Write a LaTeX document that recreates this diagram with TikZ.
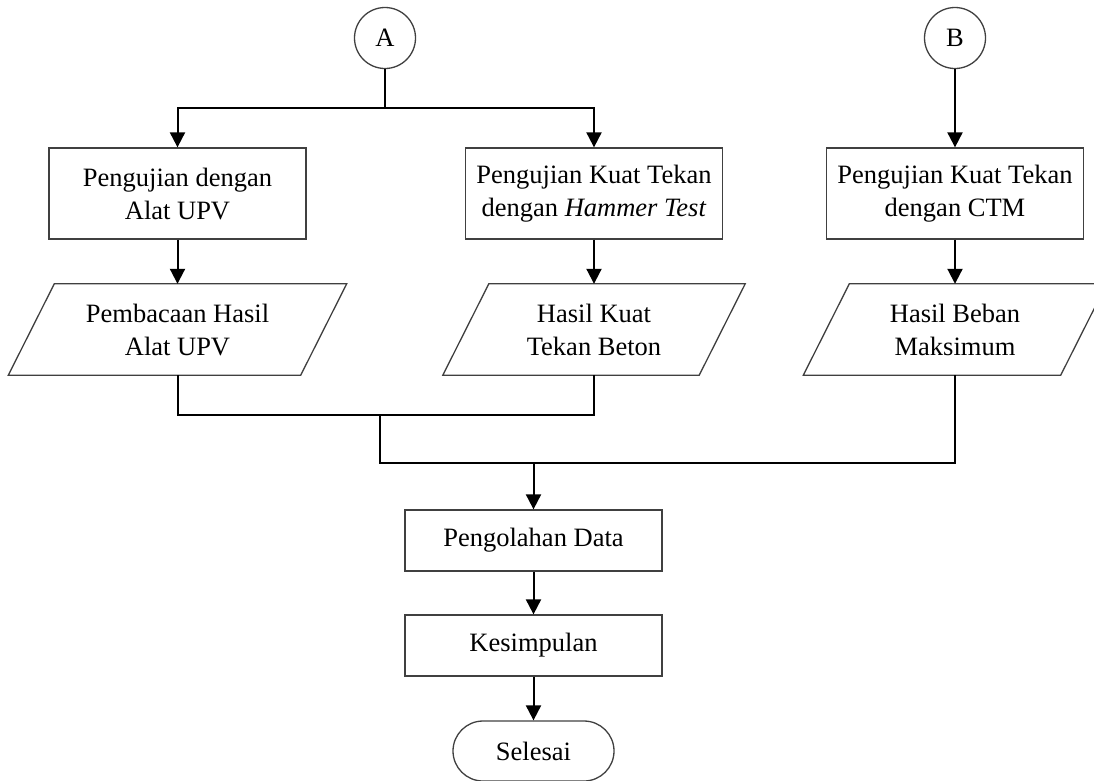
\documentclass[tikz,border=0pt]{standalone}
\usepackage{fontspec}
\setmainfont{Liberation Serif}
\usetikzlibrary{arrows.meta}
\begin{document}
\begin{tikzpicture}[x=1pt,y=-1pt,
  every node/.style={font=\fontsize{26.5}{33}\selectfont, align=center, inner sep=0pt},
  shapeline/.style={draw=black!75, line width=1.3pt},
  box/.style={shapeline, minimum width=257pt, minimum height=91pt},
  conn/.style={circle, shapeline, minimum size=61pt},
  io/.style={minimum width=#1, minimum height=91pt},
  wire/.style={line width=2pt, black},
  arr/.style={wire, -{Triangle[length=15pt,width=15pt]}},
  ]
\useasboundingbox (0,0) rectangle (1094,780);

\node[conn] (A) at (385,38) {A};
\node[conn] (B) at (955,38) {B};

\node[box] (b1) at (177.5,193.5) {Pengujian dengan\\Alat UPV};
\node[box] (b2) at (594,193.5) {Pengujian Kuat Tekan\\dengan \textit{Hammer Test}};
\node[box] (b3) at (955,193.5) {Pengujian Kuat Tekan\\dengan CTM};

\node[io=292pt] (p1) at (177.5,329.5) {Pembacaan Hasil\\Alat UPV};
\node[io=256pt] (p2) at (594,329.5) {Hasil Kuat\\Tekan Beton};
\node[io=257pt] (p3) at (955,329.5) {Hasil Beban\\Maksimum};
\foreach \n in {p1,p2,p3}
  \draw[shapeline] ([xshift=-23pt]\n.south west) -- ([xshift=-23pt]\n.south east)
     -- ([xshift=23pt]\n.north east) -- ([xshift=23pt]\n.north west) -- cycle;

\node[box, minimum height=61pt] (d) at (533.5,540.5) {Pengolahan Data};
\node[box, minimum height=61pt] (k) at (533.5,645.5) {Kesimpulan};
\node[shapeline, rounded corners=30pt, minimum width=161pt, minimum height=60pt] (s) at (533.5,751) {Selesai};

\coordinate (jA) at (385,108);
\coordinate (m1) at (380,415);
\coordinate (m2) at (533.5,463);

\draw[wire] (A) -- (jA);
\draw[arr] (jA) -| (b1.north);
\draw[arr] (jA) -| (b2.north);
\draw[arr] (B) -- (b3);
\draw[arr] (b1) -- (p1);
\draw[arr] (b2) -- (p2);
\draw[arr] (b3) -- (p3);

\draw[wire] (p1.south) |- (p2.south |- m1) -- (p2.south);
\draw[wire] (m1) |- (p3.south |- m2) -- (p3.south);
\draw[arr] (m2) -- (d);
\draw[arr] (d) -- (k);
\draw[arr] (k) -- (s);
\end{tikzpicture}
\end{document}
